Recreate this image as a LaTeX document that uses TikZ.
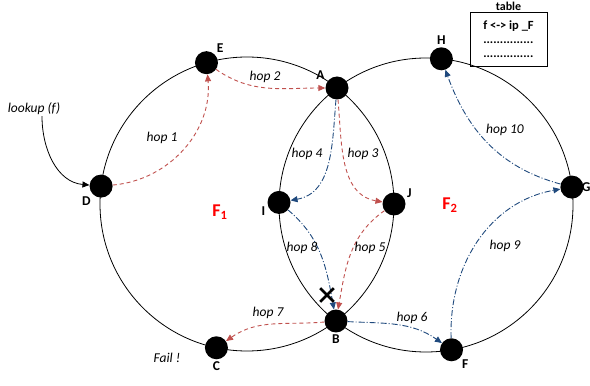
\documentclass[tikz,border=0pt]{standalone}
\usepackage{fontspec}
\setmainfont{Carlito}
\usepackage{tikz}
\usetikzlibrary{arrows.meta,positioning,calc,shapes.misc}
\definecolor{HopRed}{HTML}{C0504D}
\definecolor{HopBlue}{HTML}{1F497D}
\definecolor{ZoneRed}{HTML}{FF0000}

\begin{document}
\begin{tikzpicture}[
    x=1pt,y=1pt,
    ring/.style={draw=black,line width=0.8pt},
    peer/.style={circle,fill=black,minimum size=23pt,inner sep=0pt},
    peerlbl/.style={font=\fontsize{13.5}{15}\selectfont\bfseries,inner sep=2pt},
    hoplbl/.style={font=\fontsize{13.5}{15}\selectfont\itshape,inner sep=1pt},
    zonelbl/.style={font=\fontsize{18}{20}\selectfont\bfseries,text=ZoneRed},
    redhop/.style={-{Triangle[length=7pt,width=6pt]},draw=HopRed,line width=0.9pt,
      dash pattern=on 4pt off 3pt},
    bluehop/.style={-{Triangle[length=7pt,width=6pt]},draw=HopBlue,line width=0.9pt,
      dash pattern=on 6pt off 2pt on 1pt off 2pt},
    callarrow/.style={-{Triangle[length=7pt,width=6pt]},draw=black,line width=0.8pt},
    tablebox/.style={draw,line width=0.8pt,minimum width=77pt,minimum height=54pt,
      align=left,font=\fontsize{12.5}{14}\selectfont\bfseries}
  ]
    \useasboundingbox (0,0) rectangle (590,386);

    % the two rings
    \coordinate (cL) at (247,182);
    \coordinate (cR) at (426,181);
    \draw[ring] (cL) circle (147pt);
    \draw[ring] (cR) circle (147pt);

    % peers
    \node[peer,label={[peerlbl]above right:E}] (E) at ($(cL)+(106:147pt)$) {};
    \node[peer,label={[peerlbl]below left:D}] (D) at ($(cL)+(173:147pt)$) {};
    \node[peer,label={[peerlbl]below:C}] (C) at ($(cL)+(258:147pt)$) {};
    \node[peer,label={[peerlbl]20:J}] (J) at ($(cL)+(0:147pt)$) {};
    \node[peer,label={[peerlbl]above:H}] (H) at ($(cR)+(84:147pt)$) {};
    \node[peer,label={[peerlbl,label distance=-4pt]right:G}] (G) at ($(cR)+(7:147pt)$) {};
    \node[peer,label={[peerlbl]below right:F}] (F) at ($(cR)+(280:147pt)$) {};
    \node[peer,label={[peerlbl]190:I}] (I) at ($(cR)+(179:147pt)$) {};
    \node[peer,label={[peerlbl]150:A}] (A) at (337,298) {};
    \node[peer,label={[peerlbl]below:B}] (B) at (336,65) {};

    % zones
    \node[zonelbl] (f1) at (220,174) {F\textsubscript{1}};
    \node[zonelbl] (f2) at (450,181) {F\textsubscript{2}};

    % lookup entry
    \node[hoplbl] (lookup) at (34,277) {lookup (f)};
    \draw[callarrow] ([xshift=8pt]lookup.south) to[out=-90,in=175] (D);

    % hops
    \draw[redhop] (D) to[out=5,in=-85] (E);
    \draw[redhop] (E) to[out=-35,in=180] (A);
    \draw[redhop] (A) to[out=-85,in=170] (J);
    \draw[bluehop] (A) to[out=-95,in=10] (I);
    \draw[redhop] (J) to[out=215,in=80] (B);
    \draw[bluehop] (I) to[out=-40,in=100] (B);
    \draw[redhop] (B) to[out=185,in=35] (C);
    \draw[bluehop] (B) to[out=-3,in=145] (F);
    \draw[bluehop] (F) to[out=92,in=190] (G);
    \draw[bluehop] (G) to[out=165,in=-70] (H);

    \node[hoplbl] (h1) at (162,248) {hop 1};
    \node[hoplbl] (h2) at (265,309) {hop 2};
    \node[hoplbl] (h3) at (363,232) {hop 3};
    \node[hoplbl] (h4) at (307,232) {hop 4};
    \node[hoplbl] (h5) at (370,138) {hop 5};
    \node[hoplbl] (h8) at (302,138) {hop 8};
    \node[hoplbl] (h7) at (268,73) {hop 7};
    \node[hoplbl] (h6) at (412,68) {hop 6};
    \node[hoplbl] (h9) at (505,140) {hop 9};
    \node[hoplbl] (h10) at (505,256) {hop 10};
    \node[hoplbl] (fail) at (167,28) {Fail !};

    % failed link
    \node[cross out,draw,line width=2.7pt,minimum size=11pt,inner sep=0pt] (x) at (327,91) {};

    % lookup table
    \node[tablebox,label={[font=\fontsize{12}{13}\selectfont\bfseries,inner sep=0.5pt]above:table}]
      (tbl) at (508.5,347) {f <-> ip \_F\\ ...............\\ ...............};
  \end{tikzpicture}
\end{document}
